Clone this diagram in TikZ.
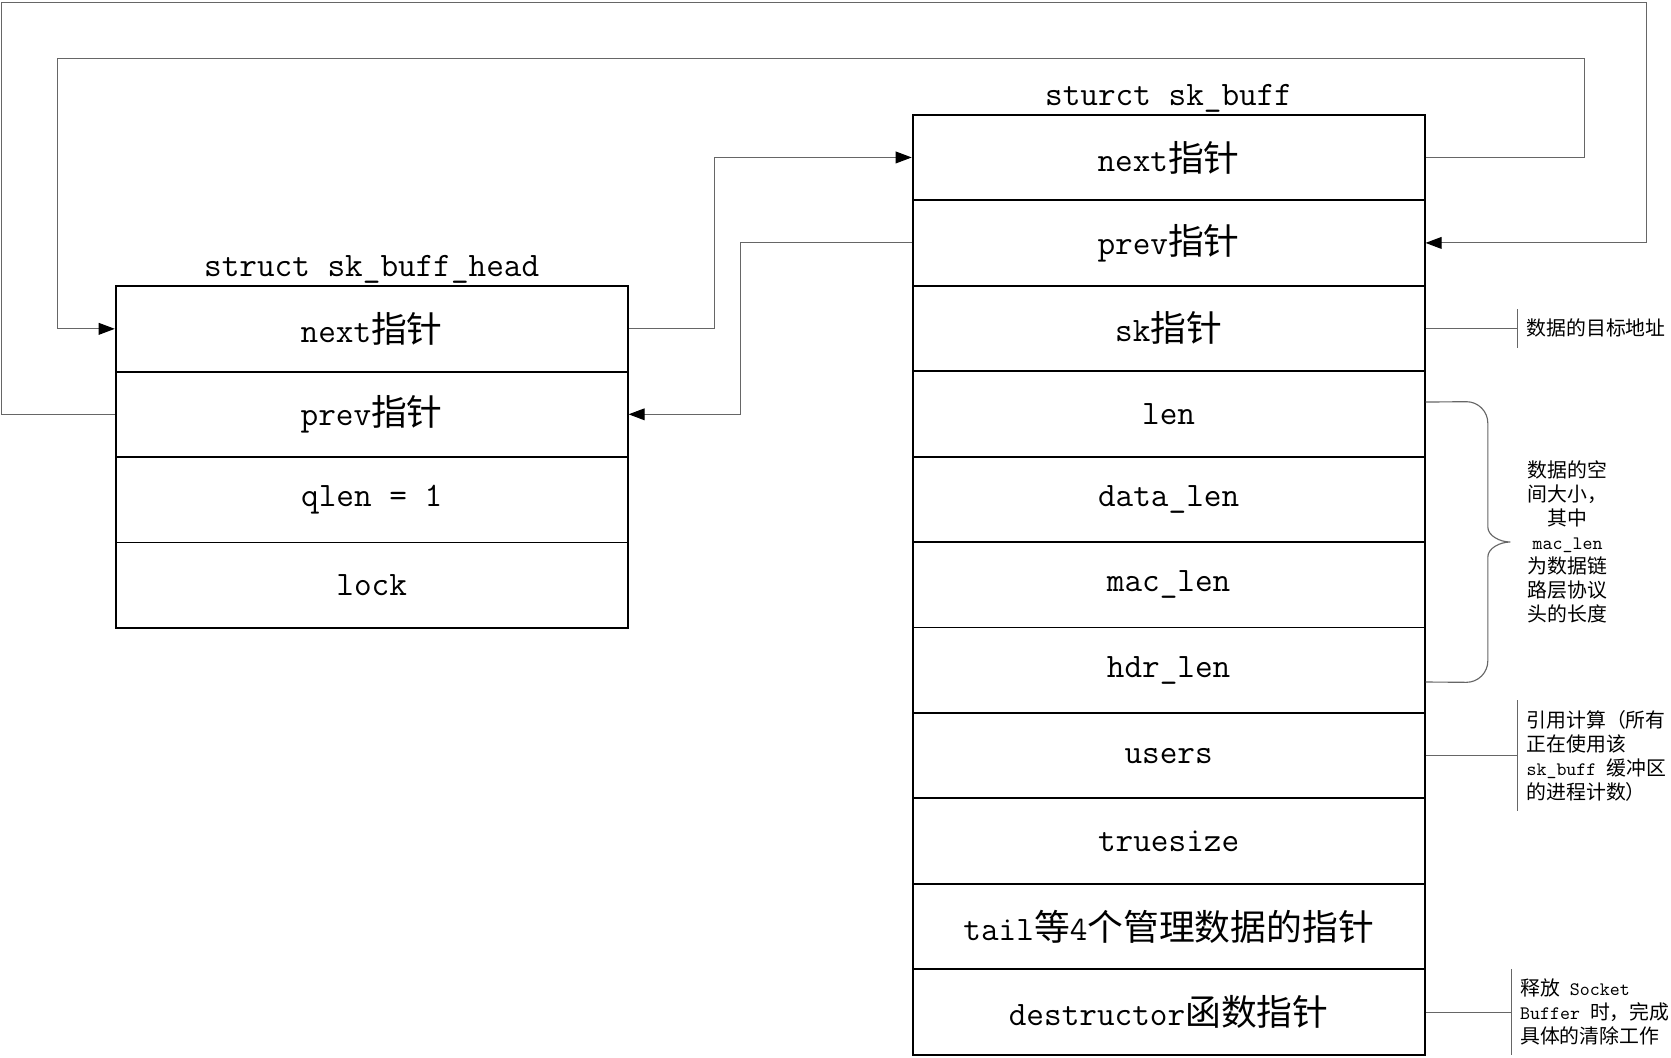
\documentclass[tikz,border=0pt]{standalone}
\usepackage{fontspec}
\newfontfamily\cjkfont{Noto Sans CJK SC}[Scale=1.045]
\newcommand{\zh}[1]{{\cjkfont #1}}
\usetikzlibrary{arrows.meta, positioning}
\definecolor{linkgray}{gray}{0.4}

\begin{document}
\begin{tikzpicture}[x=0.02cm, y=-0.02cm, node distance = 1.596cm, on grid,
    field/.style = {draw, line width=1pt, minimum width=9.56cm, minimum height=1.596cm, inner sep=0pt, font=\ttfamily\fontsize{18.2}{22}\selectfont},
    title/.style = {anchor=base, inner sep=0pt, font=\ttfamily\fontsize{18.2}{22}\selectfont},
    link/.style = {draw=linkgray, line width=0.6pt, -{Triangle[length=0.3cm, width=0.22cm, color=black]}},
    note/.style = {draw=linkgray, line width=0.6pt},
    remark/.style = {anchor=west, align=left, inner xsep=0.16cm, inner ysep=0.18cm, font=\ttfamily\fontsize{10.1}{12.8}\selectfont}]

    \useasboundingbox (0,0) rectangle (1560,987);

    % sk_buff_head
    \node (h1) [field] at (347,307) {next\zh{指针}};
    \node (h2) [field, below = of h1] {prev\zh{指针}};
    \node (h3) [field, below = of h2] {qlen = 1};
    \node (h4) [field, below = of h3] {lock};
    \node (ht) [title] at ([yshift=0.17cm]h1.north) {struct sk\_buff\_head};

    % sk_buff
    \node (s1) [field] at (1091,147) {next\zh{指针}};
    \node (s2) [field, below = of s1] {prev\zh{指针}};
    \node (s3) [field, below = of s2] {sk\zh{指针}};
    \node (s4) [field, below = of s3] {len};
    \node (s5) [field, below = of s4] {data\_len};
    \node (s6) [field, below = of s5] {mac\_len};
    \node (s7) [field, below = of s6] {hdr\_len};
    \node (s8) [field, below = of s7] {users};
    \node (s9) [field, below = of s8] {truesize};
    \node (s10) [field, below = of s9] {tail\zh{等}4\zh{个管理数据的指针}};
    \node (s11) [field, below = of s10] {destructor\zh{函数指针}};
    \node (st) [title] at ([yshift=0.15cm]s1.north) {sturct sk\_buff};

    \draw [link] (h1.east) -- ++(80,0) |- (s1.west);
    \draw [link] (s2.west) -- ++(-160,0) |- (h2.east);
    \draw [link] (s1.east) -- ++(148,0) |- (54,55) |- (h1.west);
    \draw [link] (h2.west) -- ++(-106,0) |- (1537,2) |- (s2.east);

    % remarks
    \node (r1) [right = 1.72cm of s3.east, remark] {\zh{数据的目标地址}};
    \draw [note] (s3.east) -- (r1.west);
    \draw [note] (r1.north west) -- (r1.south west);

    \coordinate (tip) at (1410,506);
    \draw [note] ([yshift=0.22cm]s4.east) -- (1369,375) .. controls +(11,0) and +(0,-11) .. (1389,395)
        -- (1389,492) .. controls +(0,8) and +(-10,0) .. (tip)
        .. controls +(-10,0) and +(0,-8) .. (1389,520) -- (1389,617)
        .. controls +(0,11) and +(11,0) .. (1369,637) -- ([yshift=-0.22cm]s7.east);
    \node (r4) [right = 0.16cm of tip, remark, align=center] {\zh{数据的空}\\ \zh{间大小，}\\ \zh{其中}\\ mac\_len\\ \zh{为数据链}\\ \zh{路层协议}\\ \zh{头的长度}};

    \node (r2) [right = 1.72cm of s8.east, remark] {\zh{引用计算（所有}\\ \zh{正在使用该}\\ sk\_buff \zh{缓冲区}\\ \zh{的进程计数）}};
    \draw [note] (s8.east) -- (r2.west);
    \draw [note] (r2.north west) -- (r2.south west);

    \node (r3) [right = 1.6cm of s11.east, remark] {\zh{释放} Socket\\ Buffer \zh{时，完成}\\ \zh{具体的清除工作}};
    \draw [note] (s11.east) -- (r3.west);
    \draw [note] (r3.north west) -- (r3.south west);

\end{tikzpicture}
\end{document}
